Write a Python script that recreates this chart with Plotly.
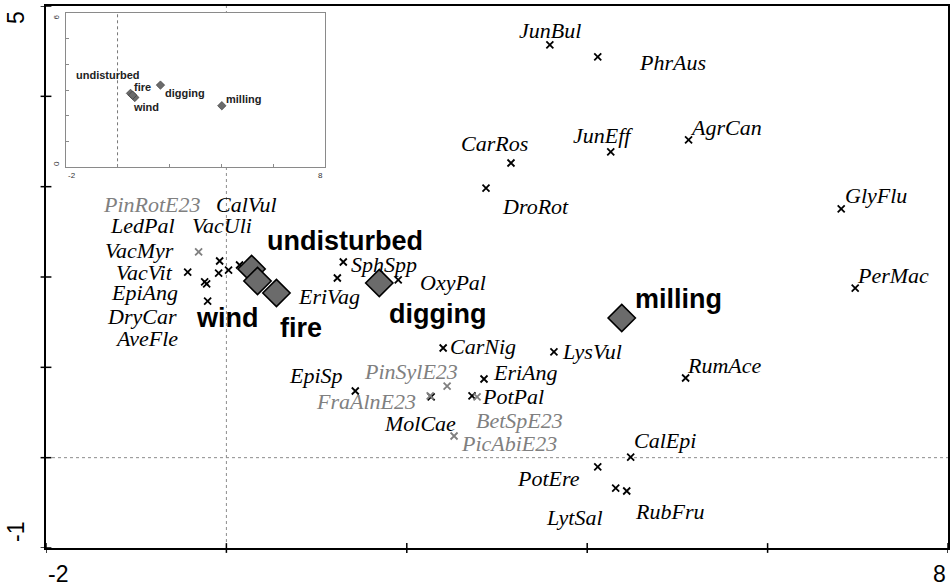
import plotly.graph_objects as go

# ---------------- data ----------------
species = ["JunBul", "PhrAus", "CarRos", "DroRot", "JunEff", "AgrCan", "GlyFlu", "PerMac",
           "RumAce", "LysVul", "CarNig", "EriAng", "PotPal", "BetSpE23", "PinSylE23", "PicAbiE23",
           "MolCae", "FraAlnE23", "EpiSp", "PotEre", "CalEpi", "LytSal", "RubFru", "SphSpp",
           "EriVag", "OxyPal", "PinRotE23", "VacVit", "EpiAng", "DryCar", "AveFle", "LedPal",
           "VacMyr", "VacUli", "CalVul"]
species_x = [3.586, 4.117, 3.155, 2.878, 4.261, 5.124, 6.816, 6.971,
             5.091, 3.631, 2.403, 2.856, 2.723, 2.779, 2.447, 2.524,
             2.270, 2.259, 1.429, 4.117, 4.482, 4.316, 4.438, 1.296,
             1.230, 1.905, -0.308, -0.429, -0.241, -0.219, -0.208, -0.075,
             -0.086, 0.024, 0.146]
species_y = [4.569, 4.436, 3.262, 2.985, 3.384, 3.517, 2.753, 1.878,
             0.882, 1.170, 1.214, 0.871, 0.683, 0.672, 0.793, 0.240,
             0.672, 0.683, 0.738, -0.103, 0.007, -0.336, -0.369, 2.166,
             1.989, 1.967, 2.277, 2.055, 1.945, 1.923, 1.734, 2.177,
             2.044, 2.077, 2.133]
species_is_tree = [False, False, False, False, False, False, False, False,
                   False, False, False, False, False, True, True, True,
                   False, True, False, False, False, False, False, False,
                   False, False, True, False, False, False, False, False,
                   False, False, False]

groups = ["undisturbed", "wind", "fire", "digging", "milling"]
group_x = [0.279, 0.345, 0.555, 1.695, 4.383]
group_y = [2.089, 1.956, 1.823, 1.934, 1.546]

inset_x = [0.50, 0.665, 0.58, 1.654, 4.02]
inset_y = [2.87, 2.71, 2.80, 3.19, 2.39]

main_x_ticks = [-2, 0, 2, 4, 6, 8]
main_y_ticks = [-1, 0, 1, 2, 3, 4, 5]
main_x_ticklabels = {-2: "-2", 8: "8"}
main_y_ticklabels = {5: "5", -1: "-1"}
inset_x_ticklabels = {-2: "-2", 8: "8"}
inset_y_ticklabels = {6: "6", 0: "0"}

# ---------------- styles (label offsets in px: dx right, dy up) ----------------
species_offsets = {
    "JunBul": (0, 14), "PhrAus": (75, -6), "CarRos": (-16, 20), "DroRot": (49, -18),
    "JunEff": (-8, 16), "AgrCan": (37, 12), "GlyFlu": (35, 13), "PerMac": (38, 13),
    "RumAce": (39, 12), "LysVul": (38, 0), "CarNig": (40, 2), "EriAng": (41, 6),
    "PotPal": (41, -1), "BetSpE23": (42, -24), "PinSylE23": (-36, 15), "PicAbiE23": (55, -8),
    "MolCae": (-11, -27), "FraAlnE23": (-64, -6), "EpiSp": (-39, 16), "PotEre": (-49, -12),
    "CalEpi": (34, 17), "LytSal": (-41, -29), "RubFru": (43, -20), "SphSpp": (41, -2),
    "EriVag": (-8, -19), "OxyPal": (55, -3), "PinRotE23": (-47, 47), "VacVit": (-43, 0),
    "EpiAng": (-60, -11), "DryCar": (-65, -33), "AveFle": (-61, -37), "LedPal": (-77, 36),
    "VacMyr": (-79, 23), "VacUli": (-7, 45), "CalVul": (7, 60),
}
group_offsets = {"undisturbed": (93, 28), "wind": (-30, -37), "fire": (25, -35),
                 "digging": (58, -31), "milling": (57, 19)}
inset_offsets = {"undisturbed": (-23, 18), "wind": (11, -10), "fire": (10, 8),
                 "digging": (25, -8), "milling": (22, 7)}

BLACK = "#000000"
GREY = "#808080"
SERIF = "'Liberation Serif', 'Times New Roman', 'DejaVu Serif', serif"
SANS = "Liberation Sans"

fig = go.Figure()

# species markers
for is_tree in (False, True):
    xs = [x for x, t in zip(species_x, species_is_tree) if t == is_tree]
    ys = [y for y, t in zip(species_y, species_is_tree) if t == is_tree]
    col = GREY if is_tree else BLACK
    fig.add_trace(go.Scatter(x=xs, y=ys, mode="markers", xaxis="x", yaxis="y",
                             marker=dict(symbol="x-thin", size=7, line=dict(width=1.8, color=col)),
                             hoverinfo="skip", showlegend=False))

# group diamonds (main)
fig.add_trace(go.Scatter(x=group_x, y=group_y, mode="markers", xaxis="x", yaxis="y",
                         marker=dict(symbol="diamond", size=21, color="#6b6b6b",
                                     line=dict(width=1.6, color=BLACK)),
                         hoverinfo="skip", showlegend=False))

# inset diamonds
fig.add_trace(go.Scatter(x=inset_x, y=inset_y, mode="markers", xaxis="x2", yaxis="y2",
                         marker=dict(symbol="diamond", size=6.5, color="#6b6b6b",
                                     line=dict(width=0.6, color="#333333")),
                         hoverinfo="skip", showlegend=False))

annotations = []
for name, x, y, t in zip(species, species_x, species_y, species_is_tree):
    dx, dy = species_offsets[name]
    annotations.append(dict(x=x, y=y, xref="x", yref="y", text=f"<i>{name}</i>",
                            showarrow=False, xshift=dx, yshift=dy,
                            font=dict(family=SERIF, size=22,
                                      color=GREY if t else BLACK)))
for name, x, y in zip(groups, group_x, group_y):
    dx, dy = group_offsets[name]
    annotations.append(dict(x=x, y=y, xref="x", yref="y", text=f"<b>{name}</b>",
                            showarrow=False, xshift=dx, yshift=dy,
                            font=dict(family=SANS, size=27, color=BLACK)))
for name, x, y in zip(groups, inset_x, inset_y):
    dx, dy = inset_offsets[name]
    annotations.append(dict(x=x, y=y, xref="x2", yref="y2", text=f"<b>{name}</b>",
                            showarrow=False, xshift=dx, yshift=dy,
                            font=dict(family=SANS, size=11, color="#222222")))

# main tick labels
for v, s in main_x_ticklabels.items():
    annotations.append(dict(x=v, y=0, xref="x", yref="paper", text=s, showarrow=False,
                            xanchor="left" if v == min(main_x_ticks) else "right",
                            yanchor="middle", yshift=-26,
                            font=dict(family=SANS, size=23, color=BLACK)))
for v, s in main_y_ticklabels.items():
    annotations.append(dict(x=0, y=v, xref="paper", yref="y", text=s, showarrow=False,
                            textangle=-90, xanchor="center", yanchor="middle",
                            xshift=-30, yshift=-12 if v == max(main_y_ticks) else 16,
                            font=dict(family=SANS, size=23, color=BLACK)))
# inset tick labels
for v, s in inset_x_ticklabels.items():
    annotations.append(dict(x=v, y=0, xref="x2", yref="y2", text=s, showarrow=False,
                            xanchor="left" if v < 0 else "right", yanchor="top", yshift=-2,
                            font=dict(family=SANS, size=8, color="#333333")))
for v, s in inset_y_ticklabels.items():
    annotations.append(dict(x=-2, y=v, xref="x2", yref="y2", text=s, showarrow=False,
                            textangle=-90, xanchor="center", yanchor="middle",
                            xshift=-9, yshift=-4 if v > 0 else 4,
                            font=dict(family=SANS, size=8, color="#333333")))

shapes = []
# dotted reference lines (main)
shapes.append(dict(type="line", xref="x", yref="y", x0=0, x1=0, y0=-1, y1=5,
                   line=dict(color="#8c8c8c", width=1, dash="dot"), layer="below"))
shapes.append(dict(type="line", xref="x", yref="y", x0=-2, x1=8, y0=0, y1=0,
                   line=dict(color="#8c8c8c", width=1, dash="dot"), layer="below"))
# inset dotted line
shapes.append(dict(type="line", xref="x2", yref="y2", x0=0, x1=0, y0=0, y1=6,
                   line=dict(color="#777777", width=1, dash="dot"), layer="below"))
# main ticks crossing the axes
for v in main_x_ticks:
    shapes.append(dict(type="line", xref="x", yref="paper", x0=v, x1=v, y0=-0.009, y1=0.009,
                       line=dict(color=BLACK, width=1.5)))
for v in main_y_ticks:
    shapes.append(dict(type="line", xref="paper", yref="y", x0=-0.006, x1=0.006, y0=v, y1=v,
                       line=dict(color=BLACK, width=1.5)))

fig.update_layout(
    width=952, height=587,
    margin=dict(l=46, r=2, t=6, b=39),
    paper_bgcolor="white", plot_bgcolor="white",
    xaxis=dict(range=[-2, 8], showgrid=False, zeroline=False, showticklabels=False,
               showline=True, linecolor=BLACK, linewidth=2, mirror=True, ticks=""),
    yaxis=dict(range=[-1, 5], showgrid=False, zeroline=False, showticklabels=False,
               showline=True, linecolor=BLACK, linewidth=2, mirror=True, ticks=""),
    xaxis2=dict(domain=[0.0218, 0.3094], anchor="y2", range=[-2, 8], showgrid=False,
                zeroline=False, showticklabels=False, showline=True, linecolor="#8a8a8a",
                linewidth=1, mirror=True, ticks="inside", ticklen=3, tickcolor="#8a8a8a",
                tickvals=[0, 2, 4, 6]),
    yaxis2=dict(domain=[0.7024, 0.9876], anchor="x2", range=[0, 6], showgrid=False,
                zeroline=False, showticklabels=False, showline=True, linecolor="#8a8a8a",
                linewidth=1, mirror=True, ticks="inside", ticklen=3, tickcolor="#8a8a8a",
                tickvals=[1, 2, 3, 4, 5]),
    annotations=annotations, shapes=shapes,
)

fig.write_html("out.html", config={"displayModeBar": False},
               post_script="document.body.style.margin='0px';")
